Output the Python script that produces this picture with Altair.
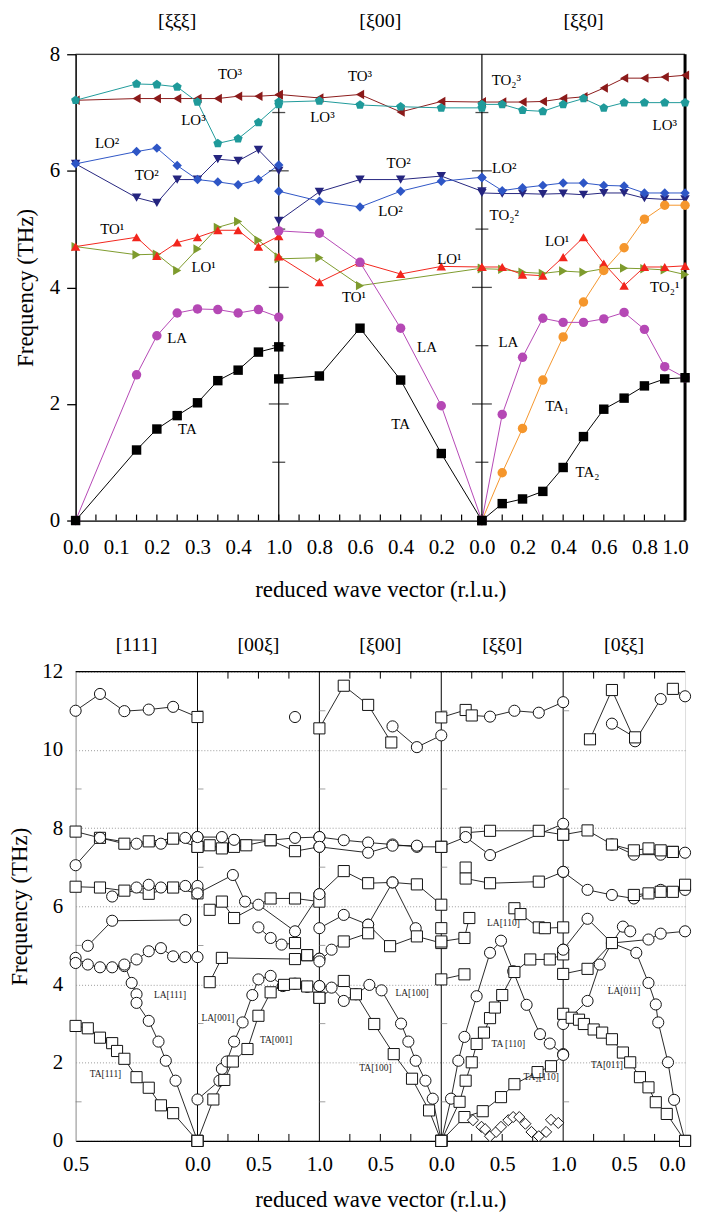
import altair as alt
import pandas as pd

FONT = "Liberation Serif"

# ================= TOP CHART DATA =================
XI_111 = [0.0, 0.15, 0.20, 0.25, 0.30, 0.35, 0.40, 0.45, 0.50]
XI_100 = [1.0, 0.8, 0.6, 0.4, 0.2, 0.0]
XI_110 = [0.0, 0.1, 0.2, 0.3, 0.4, 0.5, 0.6, 0.7, 0.8, 0.9, 1.0]
XI_LO1_100 = [1.0, 0.8, 0.6, 0.0]

TA_F = ([0, 1.21, 1.57, 1.80, 2.02, 2.40, 2.58, 2.89, 2.98],
        [2.43, 2.48, 3.30, 2.41, 1.15, 0],
        [0, 0.29, 0.37, 0.50, 0.91, 1.44, 1.91, 2.10, 2.31, 2.43, 2.45])
LA_F = ([0, 2.50, 3.17, 3.56, 3.63, 3.62, 3.56, 3.62, 3.49],
        [4.97, 4.93, 4.43, 3.30, 1.97, 0],
        [0, 1.82, 2.80, 3.47, 3.40, 3.40, 3.46, 3.57, 3.28, 2.64, 2.45])
TA1_F = [0, 0.82, 1.58, 2.41, 3.15, 3.75, 4.29, 4.68, 5.17, 5.41, 5.41]
LO1_F = ([4.70, 4.56, 4.57, 4.29, 4.66, 5.03, 5.13, 4.81, 4.52],
         [4.49, 4.51, 4.03, 4.33],
         [4.32, 4.31, 4.26, 4.24, 4.28, 4.26, 4.32, 4.33, 4.32, 4.30, 4.22])
TO1_F = ([4.70, 4.86, 4.54, 4.77, 4.86, 4.98, 4.98, 4.70, 4.88],
         [4.53, 4.09, 4.43, 4.23, 4.36, 4.35],
         [4.35, 4.35, 4.22, 4.20, 4.52, 4.86, 4.41, 4.03, 4.35, 4.35, 4.37])
LO2_F = ([6.12, 6.33, 6.39, 6.09, 5.85, 5.81, 5.76, 5.85, 6.10],
         [5.65, 5.48, 5.38, 5.65, 5.82, 5.89],
         [5.88, 5.66, 5.71, 5.75, 5.79, 5.79, 5.75, 5.74, 5.62, 5.62, 5.62])
TO2_F = ([6.12, 5.54, 5.45, 5.85, 5.85, 6.20, 6.17, 6.36, 6.00],
         [5.14, 5.64, 5.85, 5.85, 5.91, 5.65],
         [5.62, 5.61, 5.61, 5.60, 5.61, 5.59, 5.62, 5.62, 5.53, 5.51, 5.51])
LO3_F = ([7.21, 7.49, 7.48, 7.44, 7.18, 6.47, 6.55, 6.83, 7.14],
         [7.18, 7.20, 7.13, 7.10, 7.08, 7.08],
         [7.14, 7.14, 7.04, 7.02, 7.14, 7.24, 7.08, 7.17, 7.17, 7.17, 7.17])
TO3_F = ([7.21, 7.24, 7.24, 7.24, 7.24, 7.24, 7.28, 7.28, 7.30],
         [7.31, 7.25, 7.31, 7.01, 7.19, 7.18],
         [7.18, 7.18, 7.18, 7.19, 7.24, 7.27, 7.42, 7.59, 7.59, 7.61, 7.64])

PENTAGON = "M0,-1L0.951,-0.309L0.588,0.809L-0.588,0.809L-0.951,-0.309Z"

TOP_MODES = [
    ("TO3", "#8b1a1a", "triangle-left", [(0, XI_111, TO3_F[0]), (1, XI_100, TO3_F[1]), (2, XI_110, TO3_F[2])]),
    ("LO3", "#1f9a9a", PENTAGON, [(0, XI_111, LO3_F[0]), (1, XI_100, LO3_F[1]), (2, XI_110, LO3_F[2])]),
    ("TO2", "#25257f", "triangle-down", [(0, XI_111, TO2_F[0]), (1, XI_100, TO2_F[1]), (2, XI_110, TO2_F[2])]),
    ("LO2", "#2e56c6", "diamond", [(0, XI_111, LO2_F[0]), (1, XI_100, LO2_F[1]), (2, XI_110, LO2_F[2])]),
    ("LO1", "#7e9b2d", "triangle-right", [(0, XI_111, LO1_F[0]), (1, XI_LO1_100, LO1_F[1]), (2, XI_110, LO1_F[2])]),
    ("TO1", "#f2251c", "triangle-up", [(0, XI_111, TO1_F[0]), (1, XI_100, TO1_F[1]), (2, XI_110, TO1_F[2])]),
    ("TA1", "#f5962c", "circle", [(2, XI_110, TA1_F)]),
    ("LA", "#b548b5", "circle", [(0, XI_111, LA_F[0]), (1, XI_100, LA_F[1]), (2, XI_110, LA_F[2])]),
    ("TA", "#000000", "square", [(0, XI_111, TA_F[0]), (1, XI_100, TA_F[1]), (2, XI_110, TA_F[2])]),
]

TOP_TITLES = ["[ξξξ]", "[ξ00]", "[ξξ0]"]
TOP_LABELS = ["TO³", "LO³", "LO²", "TO²", "TO¹", "LO¹", "LA", "TA",
              "TO³", "LO³", "TO²", "LO²", "LO¹", "TO¹", "LA", "TA",
              "TO₂³", "LO³", "LO²", "TO₂²", "LO¹", "TO₂¹", "LA", "TA₁", "TA₂"]
TOP_LABEL_S = [0.76, 0.58, 0.155, 0.35, 0.18, 0.63, 0.50, 0.55,
               1.40, 1.215, 1.59, 1.55, 1.84, 1.37, 1.73, 1.60,
               2.12, 2.90, 2.11, 2.11, 2.37, 2.90, 2.13, 2.37, 2.52]
TOP_LABEL_F = [7.66, 6.87, 6.47, 5.93, 5.00, 4.35, 3.13, 1.57,
               7.63, 6.93, 6.13, 5.31, 4.49, 3.83, 2.98, 1.65,
               7.55, 6.79, 6.05, 5.25, 4.80, 4.00, 3.07, 1.96, 0.83]

# ================= BOTTOM CHART DATA =================
B111 = [
    ([0.5, 0.4, 0.3, 0.2, 0.1, 0.0], [11.0, 11.43, 10.99, 11.03, 11.10, 10.84], "ooooos"),
    ([0.5, 0.4, 0.3, 0.2, 0.1, 0.0], [7.91, 7.75, 7.60, 7.66, 7.73, 7.52], "ssssss"),
    ([0.5, 0.4, 0.25, 0.15, 0.05, 0.0], [7.05, 7.75, 7.60, 7.60, 7.75, 7.77], "oooooo"),
    ([0.5, 0.4, 0.3, 0.2, 0.1, 0.0], [6.50, 6.48, 6.40, 6.32, 6.48, 6.33], "ssssss"),
    ([0.35, 0.25, 0.2, 0.15, 0.05, 0.0], [6.25, 6.48, 6.55, 6.48, 6.52, 6.52], "oooooo"),
    ([0.45, 0.35, 0.05], [4.99, 5.63, 5.65], "ooo"),
    ([0.5, 0.45, 0.4, 0.35, 0.3, 0.25, 0.2, 0.15, 0.1, 0.05, 0.0],
     [4.68, 4.51, 4.44, 4.44, 4.47, 4.64, 4.85, 4.93, 4.72, 4.70, 4.70], "ooooooooooo"),
    ([0.5], [4.55], "o"),
    ([0.3, 0.27, 0.25, 0.25, 0.2, 0.16, 0.13, 0.09, 0.0],
     [4.51, 4.04, 3.75, 3.53, 3.07, 2.54, 2.05, 1.54, 0.0], "oooooooos"),
    ([0.5, 0.45, 0.4, 0.35, 0.33, 0.3, 0.25, 0.2, 0.15, 0.1, 0.0],
     [2.94, 2.88, 2.64, 2.50, 2.30, 2.10, 1.63, 1.36, 0.91, 0.71, 0.0], "sssssssssss"),
]
B00X = [
    ([0.8], [10.84], "o"),
    ([0.0, 0.1, 0.2, 0.3, 0.4, 0.6, 0.8, 1.0], [7.52, 7.56, 7.48, 7.52, 7.56, 7.69, 7.41, 7.52], "ssssssso"),
    ([0.0, 0.2, 0.3, 0.6, 0.8, 1.0], [7.77, 7.77, 7.70, 7.69, 7.75, 7.77], "ooosoo"),
    ([0.0, 0.29, 0.39, 0.5, 0.8, 1.0], [6.33, 6.80, 6.12, 6.04, 5.36, 6.31], "oooooo"),
    ([0.1, 0.2, 0.3, 0.6, 0.8, 1.0], [5.91, 6.12, 5.70, 6.20, 6.20, 6.12], "ssssss"),
    ([0.5, 0.6, 0.69, 0.8, 0.9, 1.0], [5.46, 5.19, 5.02, 5.06, 4.75, 4.66], "ooosso"),
    ([0.1, 0.2, 0.8, 0.9, 1.0], [4.06, 4.68, 4.65, 4.75, 4.66], "sssso"),
    ([0.0, 0.18, 0.2, 0.24, 0.3, 0.37, 0.45, 0.5, 0.6, 0.7, 0.8, 0.9, 1.0],
     [1.06, 1.54, 1.84, 2.03, 2.54, 3.03, 3.73, 4.13, 4.22, 3.96, 4.02, 3.94, 3.96], "ooooooooooooo"),
    ([0.0, 0.13, 0.22, 0.29, 0.41, 0.5, 0.6, 0.71, 0.8, 0.9, 1.0],
     [0.0, 1.06, 1.56, 2.03, 2.35, 3.20, 3.80, 3.99, 4.02, 3.95, 3.66], "sssssssssss"),
]
BX00 = [
    ([1.0, 0.8, 0.6, 0.41], [10.55, 11.64, 11.15, 10.19], "ssss"),
    ([0.4, 0.2, 0.0], [10.60, 10.07, 10.37], "ooo"),
    ([1.0, 0.8, 0.6, 0.4, 0.2, 0.0], [7.77, 7.69, 7.63, 7.58, 7.52, 7.52], "ooooos"),
    ([1.0, 0.6, 0.4, 0.2], [7.52, 7.37, 7.55, 7.55], "oooo"),
    ([1.0, 0.8, 0.6, 0.4, 0.2, 0.0], [6.31, 6.90, 6.59, 6.61, 6.56, 6.04], "ossoss"),
    ([0.6, 0.4, 0.21], [5.53, 6.61, 5.44], "ooo"),
    ([1.0, 0.8, 0.6, 0.42, 0.2, 0.0], [5.44, 5.78, 5.53, 4.98, 5.23, 5.06], "ooosss"),
    ([1.0, 0.9, 0.8, 0.6], [4.59, 4.89, 5.10, 5.31], "ooss"),
    ([0.0], [5.44], "s"),
    ([1.0, 0.9, 0.8, 0.7, 0.59, 0.49, 0.33, 0.27, 0.21, 0.13, 0.07, 0.0],
     [3.96, 3.92, 3.58, 3.75, 3.99, 3.85, 3.00, 2.54, 2.05, 1.54, 1.08, 0.0], "ooooooooooos"),
    ([1.0, 0.8, 0.7, 0.55, 0.39, 0.24, 0.1, 0.0], [3.66, 4.09, 3.75, 2.99, 2.22, 1.59, 0.78, 0.0], "ssssssss"),
]
BXX0 = [
    ([0.0, 0.2, 0.25, 0.4, 0.6, 0.8, 1.0], [10.83, 11.02, 10.88, 10.85, 11.00, 10.95, 11.22], "sssoooo"),
    ([0.2, 0.4, 0.8, 1.0], [7.88, 7.93, 7.93, 7.83], "ssss"),
    ([0.0, 0.2, 0.4, 1.0], [7.52, 7.77, 7.31, 8.11], "sooo"),
    ([0.2, 0.2, 0.4, 0.8, 1.0], [6.99, 6.71, 6.59, 6.63, 6.88], "sssso"),
    ([0.0, 0.19, 0.23], [5.10, 5.19, 5.70], "sss"),
    ([0.0, 0.19], [4.13, 4.26], "ss"),
    ([0.6, 0.65, 0.8, 0.85, 1.0], [5.95, 5.80, 5.46, 5.44, 5.46], "sssss"),
    ([1.0], [4.89], "o"),
    ([0.0, 0.08, 0.14, 0.19, 0.29, 0.4, 0.49, 0.59, 0.7, 0.81, 0.89, 1.0],
     [0.0, 1.08, 2.05, 2.66, 3.70, 4.81, 5.12, 4.34, 3.48, 2.73, 2.49, 2.22], "sooooooooooo"),
    ([0.0, 0.15, 0.2, 0.25, 0.29, 0.35, 0.4, 0.44, 0.5, 0.6, 0.73, 0.89, 1.0],
     [0.0, 1.00, 1.54, 2.01, 2.48, 2.77, 3.14, 3.41, 3.73, 4.32, 4.64, 4.64, 4.77], "sssssssssssss"),
    ([0.0, 0.19, 0.34, 0.49, 0.6, 0.79, 0.9, 1.0], [0.0, 0.61, 0.76, 1.12, 1.45, 1.76, 1.91, 2.20], "ssssssso"),
    ([0.26, 0.33, 0.36, 0.4, 0.45, 0.49, 0.55, 0.59, 0.64, 0.69, 0.74, 0.8, 0.86, 0.9, 0.96],
     [0.53, 0.36, 0.30, 0.12, 0.23, 0.36, 0.53, 0.61, 0.61, 0.44, 0.23, 0.12, 0.23, 0.54, 0.46], "ddddddddddddddd"),
]
B0XX = [
    ([0.78, 0.6, 0.41, 0.2], [10.27, 11.53, 10.22, 11.30], "ssoo"),
    ([0.1, 0.0], [11.56, 11.37], "so"),
    ([0.6, 0.41], [10.67, 10.32], "os"),
    ([1.0, 0.8, 0.6, 0.42, 0.2, 0.1, 0.0], [7.83, 7.94, 7.58, 7.32, 7.32, 7.39, 7.37], "ssoooso"),
    ([0.6, 0.42, 0.3, 0.2, 0.1], [7.58, 7.43, 7.48, 7.43, 7.39], "sssss"),
    ([1.0, 0.8, 0.6, 0.42, 0.2, 0.0], [6.88, 6.42, 6.29, 6.20, 6.42, 6.42], "oooooo"),
    ([0.42, 0.3, 0.2, 0.1, 0.0], [6.29, 6.33, 6.37, 6.37, 6.55], "sssss"),
    ([1.0, 0.8, 0.6, 0.4, 0.3, 0.24, 0.22, 0.14, 0.09, 0.0],
     [4.89, 5.68, 5.06, 4.81, 4.04, 3.49, 3.03, 2.01, 1.05, 0.0], "ooooooooos"),
    ([1.0, 0.8, 0.7, 0.6, 0.51, 0.45], [2.99, 3.58, 4.51, 5.06, 5.48, 5.36], "oooooo"),
    ([1.0, 0.8, 0.6, 0.3, 0.2, 0.0], [4.27, 4.40, 5.06, 5.15, 5.30, 5.36], "sssooo"),
    ([1.0, 0.93, 0.87, 0.83, 0.75, 0.68, 0.6, 0.51, 0.45, 0.37, 0.3, 0.24, 0.15, 0.0],
     [3.25, 3.15, 3.10, 2.99, 2.85, 2.77, 2.60, 2.26, 2.01, 1.63, 1.37, 0.99, 0.69, 0.0], "ssssssssssssss"),
]
BOTTOM_PANELS = [B111, B00X, BX00, BXX0, B0XX]

BOT_TITLES = ["[111]", "[00ξ]", "[ξ00]", "[ξξ0]", "[0ξξ]"]
BOT_LABELS = ["LA[111]", "TA[111]", "LA[001]", "TA[001]", "LA[100]", "TA[100]",
              "TA [110]", "TA₂[110]", "LA[110]", "LA[011]", "TA[011]"]
BOT_LABEL_S = [0.775, 0.245, 1.168, 1.645, 2.76, 2.46, 3.55, 3.82, 3.51, 4.50, 4.36]
BOT_LABEL_F = [3.72, 1.70, 3.15, 2.58, 3.77, 1.86, 2.47, 1.63, 5.57, 3.83, 1.95]

# ---- path coordinate maps (reduced wave vector -> position along the path) ----
TOP_MAP = [lambda x: x / 0.5, lambda x: 2 - x, lambda x: 2 + x]
BOT_MAP = [lambda x: 1 - 2 * x, lambda x: 1 + x, lambda x: 3 - x, lambda x: 3 + x, lambda x: 5 - x]
SHAPES = {"o": "circle", "s": "square", "d": "diamond"}

top_rows = []
for name, color, shape, segs in TOP_MODES:
    for k, (panel, xi, fv) in enumerate(segs):
        for i, (x, y) in enumerate(zip(xi, fv)):
            top_rows.append(dict(key=f"{name}-{k}", i=i, s=TOP_MAP[panel](x), f=y, c=color, shape=shape))
top_df = pd.DataFrame(top_rows)

bot_rows = []
for p, series in enumerate(BOTTOM_PANELS):
    for k, (xi, fv, sh) in enumerate(series):
        for i, (x, y) in enumerate(zip(xi, fv)):
            bot_rows.append(dict(key=f"{p}-{k}", i=i, s=BOT_MAP[p](x), f=y,
                                 shape=SHAPES[sh[i]], line=("d" not in sh)))
bot_df = pd.DataFrame(bot_rows)

# ================= TOP CHART =================
TW, TH = 613, 469
xs_t = alt.Scale(domain=[0, 3], nice=False, zero=False)
ys_t = alt.Scale(domain=[0, 8], nice=False)
top_label_expr = ("datum.value < 0.99 ? format(datum.value/2, '.1f') : "
                  "(datum.value < 2.01 ? format(abs(2-datum.value), '.1f') : format(datum.value-2, '.1f'))")
ax_xt = alt.Axis(values=[round(0.2 * i, 1) for i in range(16)], labelExpr=top_label_expr,
                 ticks=False, tickSize=0, grid=False, domainColor="black", domainWidth=1.3,
                 labelFont=FONT, labelFontSize=21, labelColor="black", labelPadding=16,
                 labelFlush=False, labelOverlap=False,
                 labelOffset={"condition": {"test": "datum.value >= 2.99", "value": -10}, "value": 0},
                 title="reduced wave vector (r.l.u.)", titleFont=FONT, titleFontSize=23,
                 titleFontWeight="normal", titleColor="black", titlePadding=21)
ax_yt = alt.Axis(values=[0, 2, 4, 6, 8], tickSize=9, tickColor="black", tickWidth=1.3, grid=False,
                 domainColor="black", domainWidth=1.5, labelFont=FONT, labelFontSize=21,
                 labelColor="black", labelPadding=7, title="Frequency (THz)", titleFont=FONT,
                 titleFontSize=23, titleFontWeight="normal", titleColor="black", titlePadding=12)
XT = alt.X("s:Q", scale=xs_t, axis=ax_xt)
YT = alt.Y("f:Q", scale=ys_t, axis=ax_yt)

top_lines = alt.Chart(top_df).mark_line(strokeWidth=1).encode(
    x=XT, y=YT, detail="key:N", order="i:Q", color=alt.Color("c:N", scale=None))
top_points = alt.Chart(top_df).mark_point(filled=True, size=90, opacity=1).encode(
    x=XT, y=YT, color=alt.Color("c:N", scale=None), shape=alt.Shape("shape:N", scale=None))

bounds_t = pd.DataFrame({"s": [1, 2]})
top_bounds = alt.Chart(bounds_t).mark_rule(color="black", strokeWidth=1.2).encode(x=XT)
top_right = alt.Chart(pd.DataFrame({"s": [3]})).mark_rule(color="black", strokeWidth=3).encode(x=XT)
top_frame = alt.Chart(pd.DataFrame({"s": [0]})).mark_rule(color="black", strokeWidth=1.2).encode(y=alt.value(0))

cross = pd.DataFrame([{"s": b, "f": v, "len": 20 if v % 2 == 0 else 13}
                      for b in [1, 2] for v in range(1, 8)])
top_cross = alt.Chart(cross).mark_tick(orient="horizontal", thickness=1.3, color="black").encode(
    x=XT, y=YT, size=alt.Size("len:Q", scale=None))

xt_ticks = pd.DataFrame({"s": [round(0.1 * i, 1) for i in range(1, 30)]})
top_xticks = alt.Chart(xt_ticks).mark_rule(color="black", strokeWidth=1.2).encode(
    x=XT, y=alt.value(TH - 6), y2=alt.value(TH))

top_titles = alt.Chart(pd.DataFrame({"s": [0.5, 1.5, 2.5], "t": TOP_TITLES})).mark_text(
    font=FONT, fontSize=20, color="black", baseline="middle").encode(x=XT, y=alt.value(-33), text="t:N")
top_text = alt.Chart(pd.DataFrame({"s": TOP_LABEL_S, "f": TOP_LABEL_F, "t": TOP_LABELS})).mark_text(
    font=FONT, fontSize=15, color="black", baseline="middle").encode(x=XT, y=YT, text="t:N")

top = alt.layer(top_lines, top_bounds, top_right, top_frame, top_cross, top_xticks,
                top_points, top_text, top_titles).properties(width=TW, height=TH)

# ================= BOTTOM CHART =================
BW, BH = 613, 472
xs_b = alt.Scale(domain=[0, 5], nice=False, zero=False)
ys_b = alt.Scale(domain=[0, 12], nice=False)
bot_label_expr = ("datum.value <= 1.01 ? format(abs(1-datum.value)/2, '.1f') : "
                  "datum.value <= 2.01 ? format(datum.value-1, '.1f') : "
                  "datum.value <= 3.01 ? format(abs(3-datum.value), '.1f') : "
                  "datum.value <= 4.01 ? format(datum.value-3, '.1f') : format(abs(5-datum.value), '.1f')")
ax_xb = alt.Axis(values=[0, 1, 1.5, 2, 2.5, 3, 3.5, 4, 4.5, 5], labelExpr=bot_label_expr,
                 ticks=False, tickSize=0, grid=False, domainColor="black", domainWidth=1.2,
                 labelFont=FONT, labelFontSize=21, labelColor="black", labelPadding=13,
                 labelFlush=False, labelOverlap=False,
                 labelOffset={"condition": {"test": "datum.value >= 4.99", "value": -13}, "value": 0},
                 title="reduced wave vector (r.l.u.)", titleFont=FONT, titleFontSize=23,
                 titleFontWeight="normal", titleColor="black", titlePadding=14)
ax_yb = alt.Axis(values=[0, 2, 4, 6, 8, 10, 12], ticks=False, tickSize=0, grid=True,
                 gridColor="#9a9a9a", gridDash=[1, 2], gridWidth=1,
                 domainColor="#9a9a9a", domainWidth=1, labelFont=FONT, labelFontSize=21,
                 labelColor="black", labelPadding=13, title="Frequency (THz)", titleFont=FONT,
                 titleFontSize=23, titleFontWeight="normal", titleColor="black", titlePadding=10)
XB = alt.X("s:Q", scale=xs_b, axis=ax_xb)
YB = alt.Y("f:Q", scale=ys_b, axis=ax_yb)

bot_lines = alt.Chart(bot_df).transform_filter("datum.line").mark_line(
    strokeWidth=0.9, color="#111111").encode(x=XB, y=YB, detail="key:N", order="i:Q")
bot_points = alt.Chart(bot_df).mark_point(size=125, opacity=1, fill="white", stroke="#111111",
                                          strokeWidth=1).encode(
    x=XB, y=YB, shape=alt.Shape("shape:N", scale=None))
bot_bounds = alt.Chart(pd.DataFrame({"s": [1, 2, 3, 4]})).mark_rule(
    color="black", strokeWidth=1).encode(x=XB)
bot_frame = alt.Chart(pd.DataFrame({"s": [0]})).mark_rule(color="black", strokeWidth=1.2).encode(
    y=alt.value(0))
qt = pd.DataFrame({"s": [p + q for p in [1, 2, 3, 4] for q in [0.25, 0.5, 0.75]]})
bot_tticks = alt.Chart(qt).mark_rule(color="black", strokeWidth=1).encode(
    x=XB, y=alt.value(0), y2=alt.value(7))
bot_bticks = alt.Chart(qt).mark_rule(color="black", strokeWidth=1).encode(
    x=XB, y=alt.value(BH - 7), y2=alt.value(BH))
odd = pd.DataFrame([{"s": b, "f": v} for b in [0, 1, 2, 3, 4] for v in [1, 3, 5, 7, 9, 11]])
bot_odd = alt.Chart(odd).mark_tick(orient="horizontal", size=6, thickness=1, color="#777777",
                                   xOffset=3).encode(x=XB, y=YB)
bot_titles = alt.Chart(pd.DataFrame({"s": [0.5, 1.5, 2.5, 3.5, 4.5], "t": BOT_TITLES})).mark_text(
    font=FONT, fontSize=20, color="black", baseline="middle").encode(x=XB, y=alt.value(-27), text="t:N")
bot_text = alt.Chart(pd.DataFrame({"s": BOT_LABEL_S, "f": BOT_LABEL_F, "t": BOT_LABELS})).mark_text(
    font=FONT, fontSize=9.5, color="#222222", baseline="middle").encode(x=XB, y=YB, text="t:N")

bottom = alt.layer(bot_lines, bot_bounds, bot_frame, bot_tticks, bot_bticks, bot_odd,
                   bot_points, bot_text, bot_titles).properties(width=BW, height=BH)

chart = alt.vconcat(top, bottom, spacing=32).properties(
    padding={"left": 0, "top": -1, "right": 0, "bottom": 0}
).configure_view(stroke=None).configure(font=FONT)

chart.save("out.html", embed_options={"renderer": "svg", "actions": False})
